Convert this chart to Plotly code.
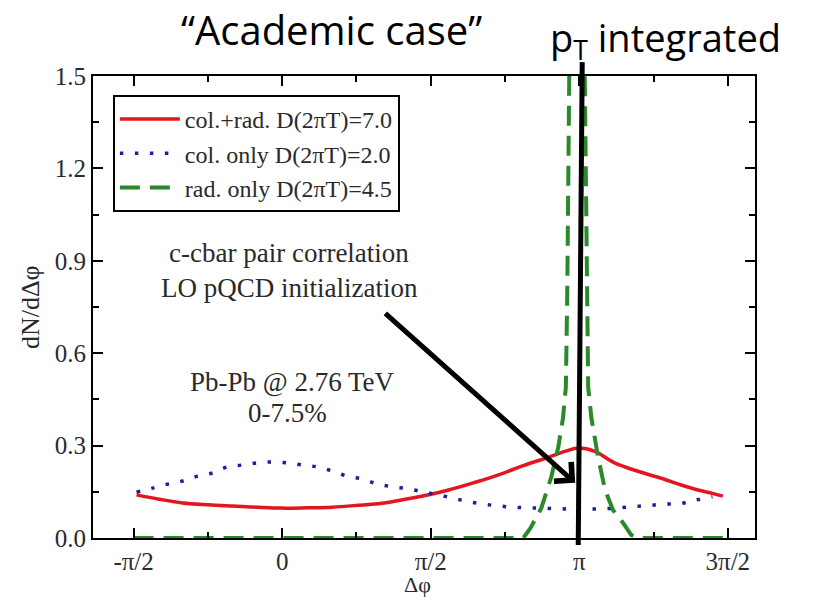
import math
import plotly.graph_objects as go

PI = math.pi

# Red: col.+rad. D(2piT)=7.0
red_x = [-1.54, -1.30, -1.054, -0.78, -0.527, -0.26, 0.0, 0.26, 0.527, 0.80, 1.054, 1.233,
         1.50, 1.760, 2.03, 2.288, 2.55, 2.815, 3.00, 3.131, 3.30, 3.521, 3.78, 4.048, 4.22, 4.396, 4.55, 4.66]
red_y = [0.140, 0.126, 0.114, 0.108, 0.104, 0.100, 0.097, 0.098, 0.100, 0.106, 0.113, 0.122,
         0.137, 0.156, 0.180, 0.205, 0.235, 0.262, 0.282, 0.292, 0.282, 0.243, 0.215, 0.190, 0.172, 0.156, 0.145, 0.136]

# Blue dotted: col. only D(2piT)=2.0
blue_x = [-1.54, -1.37, -1.21, -1.05, -0.896, -0.738, -0.580, -0.422, -0.264, -0.105, 0.053, 0.211,
          0.369, 0.527, 0.685, 0.843, 1.012, 1.170, 1.328, 1.49, 1.65, 1.81, 1.97, 2.13, 2.29,
          2.45, 2.61, 2.77, 2.93, 3.09, 3.25, 3.41, 3.57, 3.73, 3.89, 4.05, 4.21, 4.37, 4.55]
blue_y = [0.149, 0.162, 0.175, 0.185, 0.201, 0.211, 0.231, 0.237, 0.244, 0.247, 0.244, 0.237,
          0.231, 0.218, 0.201, 0.192, 0.175, 0.166, 0.160, 0.150, 0.140, 0.129, 0.118, 0.110, 0.104,
          0.100, 0.098, 0.097, 0.094, 0.097, 0.094, 0.095, 0.098, 0.102, 0.106, 0.110, 0.112, 0.123, 0.134]

# Green dashed: rad. only D(2piT)=4.5
green_x = [-1.571, 0.0, 1.5, 2.55, 2.625, 2.74, 2.846, 2.92, 2.97, 3.0, 3.015, 3.035, 3.07, 3.11,
           3.16, 3.20, 3.22, 3.236, 3.27, 3.34, 3.415, 3.50, 3.605, 3.69, 3.76, 4.2, 4.712]
green_y = [0.0, 0.0, 0.0, 0.0, 0.032, 0.097, 0.198, 0.295, 0.39, 0.49, 0.8, 1.5, 3.0, 4.0,
           3.0, 1.5, 0.8, 0.49, 0.39, 0.263, 0.156, 0.09, 0.049, 0.01, 0.0, 0.0, 0.0]

x_tickvals = [-PI / 2, 0, PI / 2, PI, 3 * PI / 2]
x_ticktext = ["-π/2", "0", "π/2", "π", "3π/2"]
x_minor = [-PI / 4, PI / 4, 3 * PI / 4, 5 * PI / 4]
y_tickvals = [0.0, 0.3, 0.6, 0.9, 1.2, 1.5]
y_ticktext = ["0.0", "0.3", "0.6", "0.9", "1.2", "1.5"]
y_minor = [0.15, 0.45, 0.75, 1.05, 1.35]

SERIF = "Liberation Serif, Times New Roman, serif"
SANS = "Open Sans, Carlito, Calibri, sans-serif"
TXT = "#2a2a2a"

fig = go.Figure()
fig.add_trace(go.Scatter(x=red_x, y=red_y, mode="lines", line=dict(color="#e3151e", width=3.5, shape="spline"),
                         name="col.+rad. D(2πT)=7.0"))
fig.add_trace(go.Scatter(x=blue_x, y=blue_y, mode="lines", line=dict(color="#1f1f9e", width=3.5, dash="3.5px,11.5px", shape="spline"),
                         name="col. only D(2πT)=2.0"))
fig.add_trace(go.Scatter(x=green_x, y=green_y, mode="lines", line=dict(color="#2a8a2a", width=4, dash="20px,10px"),
                         name="rad. only D(2πT)=4.5"))

axis_common = dict(showgrid=False, zeroline=False, showline=True, linecolor="black", linewidth=2,
                   mirror="ticks", ticks="inside", ticklen=10, tickwidth=2, tickcolor="black",
                   automargin=False,
                   tickfont=dict(family=SERIF, size=25, color=TXT))

fig.update_xaxes(range=[-2.0, 5.0], tickvals=x_tickvals, ticktext=x_ticktext,
                 minor=dict(tickvals=x_minor, ticks="inside", ticklen=6, tickwidth=2, tickcolor="black"),
                 **axis_common)
fig.update_yaxes(range=[0, 1.5], tickvals=y_tickvals, ticktext=y_ticktext,
                 minor=dict(tickvals=y_minor, ticks="inside", ticklen=6, tickwidth=2, tickcolor="black"),
                 **axis_common)

fig.update_layout(
    width=818, height=598,
    margin=dict(l=93, r=63, t=76, b=60),
    paper_bgcolor="white", plot_bgcolor="white",
    showlegend=True,
    legend=dict(x=0.030, y=0.959, xanchor="left", yanchor="top", bordercolor="black", borderwidth=2,
                bgcolor="white", font=dict(family=SERIF, size=24, color=TXT), itemwidth=60,
                tracegroupgap=0),
)

# Axis titles
fig.add_annotation(x=0.49, y=-0.1299, xref="paper", yref="paper", text="Δφ", showarrow=False,
                   font=dict(family=SERIF, size=22, color=TXT), xanchor="center", yanchor="bottom",
                   borderpad=0)
fig.add_annotation(x=-0.095, y=0.5, xref="paper", yref="paper", text="dN/dΔφ", showarrow=False, textangle=-90,
                   font=dict(family=SERIF, size=26, color=TXT), xanchor="center", yanchor="middle")

# Text annotations inside the plot
for txt, xv, yv in [("c-cbar pair correlation", 0.074, 0.925),
                    ("LO pQCD initialization", 0.074, 0.812),
                    ("Pb-Pb @ 2.76 TeV", 0.105, 0.507),
                    ("0-7.5%", 0.06, 0.406)]:
    fig.add_annotation(x=xv, y=yv, xref="x", yref="y", text=txt, showarrow=False,
                       font=dict(family=SERIF, size=27, color=TXT))

# Arrow
fig.add_annotation(x=3.099, y=0.179, ax=1.075, ay=0.734, xref="x", yref="y", axref="x", ayref="y",
                   text="", showarrow=True, arrowhead=4, arrowsize=1, arrowwidth=5, arrowcolor="black",
                   standoff=0)

# Vertical black line
fig.add_shape(type="line", xref="x", yref="paper", x0=3.173, y0=1.030, x1=3.131, y1=-0.015,
              line=dict(color="black", width=5), layer="above")

# Slide titles
fig.add_annotation(x=0.361, y=1.100, xref="paper", yref="paper", text="“Academic case”", showarrow=False,
                   font=dict(family=SANS, size=40, color="black"), xanchor="center", yanchor="middle")
fig.add_annotation(x=0.687, y=1.080, xref="paper", yref="paper", text="p<sub>T</sub> integrated", showarrow=False,
                   font=dict(family=SANS, size=38, color="black"), xanchor="left", yanchor="middle")

fig.write_html("out.html")
